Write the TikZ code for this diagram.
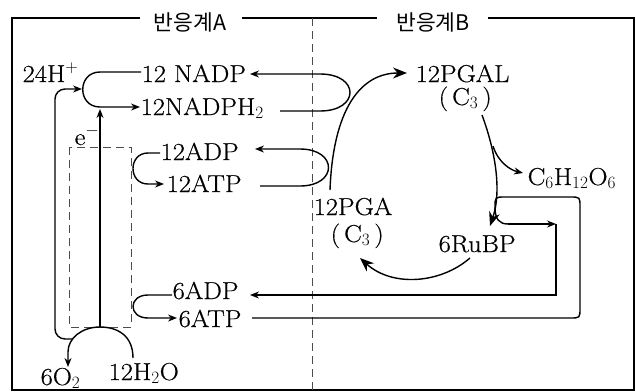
\documentclass[tikz,border=0pt]{standalone}
\usepackage{fontspec}
\setmainfont{Latin Modern Roman}[FakeStretch=1.08, FakeBold=0.5]
\newfontfamily\kfont{Noto Sans CJK KR}
\usetikzlibrary{arrows.meta}
\begin{document}
\begin{tikzpicture}[x=1pt,y=-1pt, line width=1.4pt,
  lbl/.style={anchor=base west, inner sep=0pt, font=\fontsize{24.5}{28}\selectfont},
  ttl/.style={inner sep=0pt, font=\kfont\fontsize{21.5}{24}\selectfont},
  sa/.style={-{Stealth[length=9pt,width=7pt]}},
  ba/.style={-{Stealth[length=14pt,width=11pt]}},
  dsh/.style={line width=0.8pt, dash pattern=on 8pt off 5pt, black!70}]
\useasboundingbox (0,0) rectangle (636,391);
% titles and frame
\node[ttl] (ta) at (190,22) {반응계A};
\node[ttl] (tb) at (433,22) {반응계B};
\draw (140,18) -- (12,18) -- (12,390) -- (634,390) -- (634,18) -- (488,18);
\draw (242,18) -- (377,18);
\draw[dsh] (312,18) -- (312,391);
% labels
\node[lbl] (h) at (22,82) {24H$^+$};
\node[lbl] (nadp) at (141,82) {12 NADP};
\node[lbl] (nadph) at (140,115) {12NADPH$_2$};
\node[lbl] (e) at (74,145) {e$^-$};
\node[lbl] (adp) at (160,160) {12ADP};
\node[lbl] (atp) at (166,192) {12ATP};
\node[lbl] (pgal) at (415,82) {12PGAL};
\node[lbl] (c3a) at (438,105) {(\,C$_3$\,)};
\node[lbl] (glu) at (527,185) {C$_6$H$_{12}$O$_6$};
\node[lbl] (pga) at (313,215) {12PGA};
\node[lbl] (c3b) at (330,242) {(\,C$_3$\,)};
\node[lbl] (rubp) at (438,252) {6RuBP};
\node[lbl] (adp6) at (172,299) {6ADP};
\node[lbl] (atp6) at (178,327) {6ATP};
\node[lbl] (o2) at (40,385) {6O$_2$};
\node[lbl] (w) at (108,380) {12H$_2$O};
% photosystem box
\draw[dsh] (69,147) rectangle (131,327);
% coordinates
\coordinate (wtop) at (100,327);
\coordinate (wst) at (133,358);
\coordinate (o2t) at (68,367);
\coordinate (hj) at (72,339);
\coordinate (hend) at (82,89);
\coordinate (etip) at (100,109);
% water splitting
\draw[sa] (wst) .. controls (133,336) and (118,327) .. (wtop)
  .. controls (82,327) and (68,338) .. (68,352) -- (o2t);
\draw[sa, rounded corners=10pt] (hj) -| (55,89) -- (hend);
\draw[sa] (wtop) -- (etip);
% NADP loop left
\draw[sa] (141,72) -- (100,72) .. controls (77,72) and (77,107) .. (100,107) -- (140,107);
% NADPH -> NADP right loop
\draw[sa] (280,111) -- (320,111) .. controls (360,111) and (360,74) .. (320,74) -- (250,74);
% ATP -> ADP right loop
\draw[sa] (260,186) -- (300,186) .. controls (338,186) and (338,149) .. (300,149) -- (255,149);
% ADP -> ATP left loop
\draw[sa] (160,153) -- (148,153) .. controls (128,153) and (128,184) .. (148,184) -- (164,184);
% 6ADP -> 6ATP left loop
\draw[sa] (172,295) -- (148,295) .. controls (128,295) and (128,318) .. (148,318) -- (177,318);
% Calvin cycle
\draw[ba] (330,190) .. controls (333,110) and (360,73) .. (407,73);
\draw[ba] (482,115) .. controls (495,150) and (502,190) .. (490,226);
\draw[sa] (493,146) .. controls (498,162) and (510,170) .. (523,173);
\draw[ba] (470,258) .. controls (440,284) and (392,287) .. (360,258);
% ATP loop around
\coordinate (j) at (508,224);
\draw (252,318) -- (570,318) .. controls (580,318) .. (580,308) -- (580,207)
  .. controls (580,197) .. (570,197) -- (505,197) .. controls (495,197) .. (495,207)
  .. controls (495,219) and (499,224) .. (j);
\draw[sa] (j) -- (556,224);
\draw[sa] (556,224) -- (556,295) -- (250,295);
\end{tikzpicture}
\end{document}
